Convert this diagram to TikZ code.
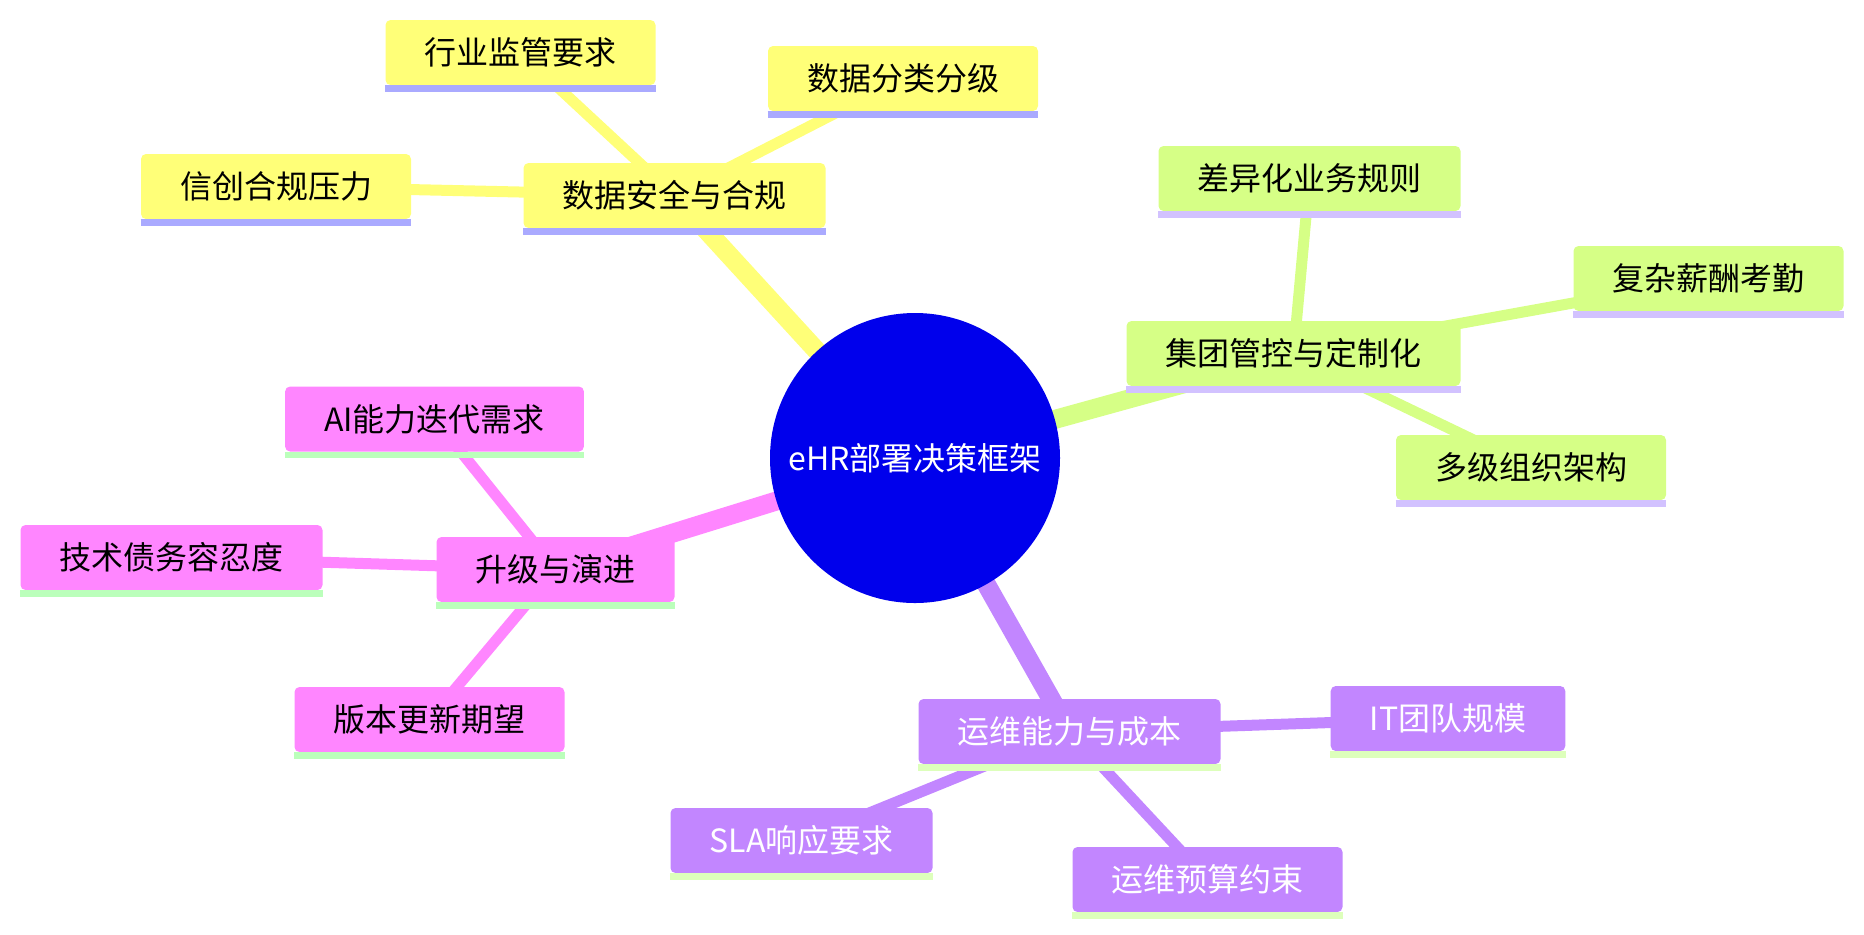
\documentclass[tikz,border=0pt]{standalone}
\usepackage{xcolor}
\usepackage{fontspec}
\usepackage{tikz}
\usetikzlibrary{positioning, calc, backgrounds}
\newfontfamily\cjk{Noto Sans CJK SC}
\definecolor{rootblue}{HTML}{0000EC}
\definecolor{secyellow}{HTML}{FFFF78}
\definecolor{secgreen}{HTML}{D6FF86}
\definecolor{secpurple}{HTML}{C286FF}
\definecolor{secpink}{HTML}{FF86FF}
\definecolor{baryellow}{HTML}{AAAAFF}
\definecolor{bargreen}{HTML}{D2C2FF}
\definecolor{barpurple}{HTML}{DDFFBB}
\definecolor{barpink}{HTML}{BBFFBB}

\tikzset{
  mmnode/.style 2 args={fill=#1, rounded corners=2.5pt, inner xsep=19.5pt, inner ysep=0pt,
    minimum height=32.5pt, font=\cjk\fontsize{16pt}{19pt}\selectfont,
    append after command={([yshift=-1.6pt]\tikzlastnode.south west)
      edge[draw=#2, line width=3.2pt] ([yshift=-1.6pt]\tikzlastnode.south east)}},
  ynode/.style={mmnode={secyellow}{baryellow}},
  gnode/.style={mmnode={secgreen}{bargreen}},
  vnode/.style={mmnode={secpurple}{barpurple}, text=white},
  pnode/.style={mmnode={secpink}{barpink}},
  trunk/.style={draw=#1, line width=9.5pt},
  twig/.style={draw=#1, line width=5.5pt}
}

\begin{document}
\begin{tikzpicture}[x=0.5pt, y=-0.5pt]
  \useasboundingbox (0,0) rectangle (1864,934);

  \node[circle, fill=rootblue, text=white, minimum size=145pt, inner sep=0pt,
        font=\cjk\fontsize{16pt}{19pt}\selectfont] (root) at (915,458) {eHR部署决策框架};

  \node[ynode] (sec) at (674.5,195.5) {数据安全与合规};
  \node[ynode] (secreg) at (520.5,52.5) {行业监管要求};
  \node[ynode] (secclass) at (903,78.5) {数据分类分级};
  \node[ynode] (secxc) at (276,186.5) {信创合规压力};

  \node[gnode] (grp) at (1293.5,353.5) {集团管控与定制化};
  \node[gnode] (grprule) at (1309.5,178.5) {差异化业务规则};
  \node[gnode] (grppay) at (1708.5,278.5) {复杂薪酬考勤};
  \node[gnode] (grporg) at (1531,467.5) {多级组织架构};

  \node[vnode] (ops) at (1069.5,731.5) {运维能力与成本};
  \node[vnode] (opsit) at (1448,718.5) {IT团队规模};
  \node[vnode] (opssla) at (801.5,840.5) {SLA响应要求};
  \node[vnode] (opsbud) at (1207.5,879.5) {运维预算约束};

  \node[pnode] (upg) at (555.5,569.5) {升级与演进};
  \node[pnode] (upgai) at (434.5,419) {AI能力迭代需求};
  \node[pnode] (upgdebt) at (171.5,557.5) {技术债务容忍度};
  \node[pnode] (upgver) at (429.5,719.5) {版本更新期望};

  \begin{scope}[on background layer]
    \draw[trunk=secyellow] (root.center) -- (sec.center);
    \draw[twig=secyellow] (sec.center) -- (secreg.center);
    \draw[twig=secyellow] (sec.center) -- (secclass.center);
    \draw[twig=secyellow] (sec.center) -- (secxc.center);

    \draw[trunk=secgreen] (root.center) -- (grp.center);
    \draw[twig=secgreen] (grp.center) -- (grprule.center);
    \draw[twig=secgreen] (grp.center) -- (grppay.center);
    \draw[twig=secgreen] (grp.center) -- (grporg.center);

    \draw[trunk=secpurple] (root.center) -- (ops.center);
    \draw[twig=secpurple] (ops.center) -- (opsit.center);
    \draw[twig=secpurple] (ops.center) -- (opssla.center);
    \draw[twig=secpurple] (ops.center) -- (opsbud.center);

    \draw[trunk=secpink] (root.center) -- (upg.center);
    \draw[twig=secpink] (upg.center) -- (upgai.center);
    \draw[twig=secpink] (upg.center) -- (upgdebt.center);
    \draw[twig=secpink] (upg.center) -- (upgver.center);
  \end{scope}
\end{tikzpicture}
\end{document}
